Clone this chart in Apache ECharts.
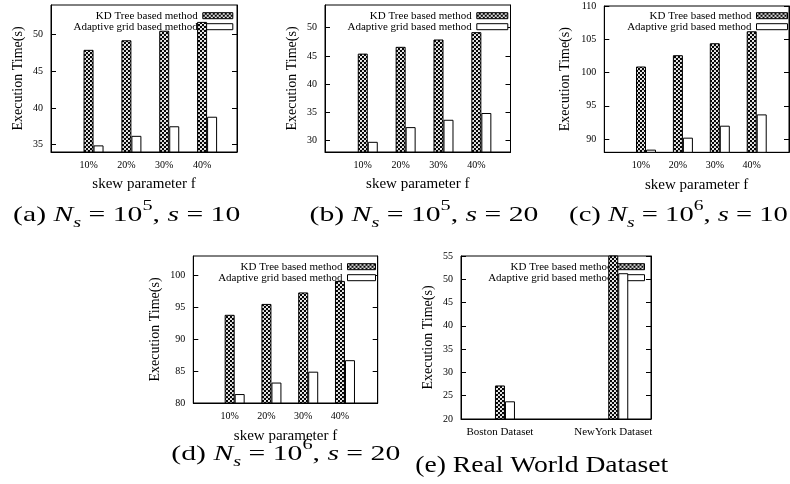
<!DOCTYPE html>
<html><head><meta charset="utf-8">
<script src="https://cdn.jsdelivr.net/npm/echarts@6/dist/echarts.min.js"></script>
<style>html,body{margin:0;padding:0;background:#fff}#c{width:790px;height:484px}</style>
</head><body><div id="c"></div>
<script>
// ---- data ----
const skewCats = ['10%', '20%', '30%', '40%'];
const realCats = ['Boston Dataset', 'NewYork Dataset'];
const seriesNames = ['KD Tree based method', 'Adaptive grid based method'];
const kdA = [47.9, 49.2, 50.5, 51.7];
const agA = [34.9, 36.2, 37.5, 38.8];
const kdB = [45.4, 46.6, 47.9, 49.2];
const agB = [29.8, 32.4, 33.7, 34.9];
const kdC = [100.9, 102.6, 104.4, 106.2];
const agC = [88.4, 90.2, 92.0, 93.7];
const kdD = [93.8, 95.5, 97.3, 99.1];
const agD = [81.4, 83.2, 84.9, 86.7];
const kdE = [27.2, 56];
const agE = [23.8, 51.3];
const ticksA = [35, 40, 45, 50];
const ticksB = [30, 35, 40, 45, 50];
const ticksC = [90, 95, 100, 105, 110];
const ticksD = [80, 85, 90, 95, 100];
const ticksE = [20, 25, 30, 35, 40, 45, 50, 55];
const yTitle = 'Execution Time(s)';
const xTitle = 'skew parameter f';
const captionA = '{t|(a) }{i|N}{sub|s}{t| = 10}{sup|5}{t|, }{i|s}{t| = 10}';
const captionB = '{t|(b) }{i|N}{sub|s}{t| = 10}{sup|5}{t|, }{i|s}{t| = 20}';
const captionC = '{t|(c) }{i|N}{sub|s}{t| = 10}{sup|6}{t|, }{i|s}{t| = 10}';
const captionD = '{t|(d) }{i|N}{sub|s}{t| = 10}{sup|6}{t|, }{i|s}{t| = 20}';
const captionE = '{e|(e) Real World Dataset}';

// ---- layout ----
const FONT = 'Liberation Serif';
const panels = [
  {cats: skewCats, kd: kdA, ag: agA, ticks: ticksA, ymin: 34, ymax: 54, box: [51, 5, 186, 147], xr: [-1.124, 3.79], xName: true, xGap: 25, yGap: 25.5, lab: 10, leg: [556.7, 10.2, 30], cap: captionA, capPos: [126.7, 215], capScale: 1.35},
  {cats: skewCats, kd: kdB, ag: agB, ticks: ticksB, ymin: 28, ymax: 54, box: [325, 5, 185.5, 147], xr: [-1.13, 3.77], xName: true, xGap: 24.5, yGap: 25.5, lab: 10, leg: [281.7, 10.2, 31], cap: captionB, capPos: [424, 215], capScale: 1.35},
  {cats: skewCats, kd: kdC, ag: agC, ticks: ticksC, ymin: 88, ymax: 110, box: [604.3, 6, 184.7, 146.3], xr: [-1.13, 3.875], xName: true, xGap: 25, yGap: 31.5, lab: 10, leg: [2, 10.2, 31], cap: captionC, capPos: [678.5, 215], capScale: 1.3},
  {cats: skewCats, kd: kdD, ag: agD, ticks: ticksD, ymin: 80, ymax: 103, box: [193.3, 256, 184.4, 147], xr: [-1.125, 3.89], xName: true, xGap: 26, yGap: 31, lab: 10, leg: [414, 261.2, 28], cap: captionD, capPos: [285.8, 454], capScale: 1.35},
  {cats: realCats, kd: kdE, ag: agE, ticks: ticksE, ymin: 20, ymax: 55, box: [461, 256, 190, 163], xr: [-0.388, 1.289], xName: false, xGap: 25, yGap: 25.5, lab: 11, leg: [145, 261.2, 27], cap: captionE, capPos: [541.7, 466], capScale: 1.2}
];

function makePattern() {
  const c = document.createElement('canvas');
  c.width = 4; c.height = 4;
  const g = c.getContext('2d');
  g.fillStyle = '#000'; g.fillRect(0, 0, 4, 4);
  g.fillStyle = '#fff';
  [[1, 1], [3, 3]].forEach(([cx, cy]) => {
    for (let dx = -4; dx <= 4; dx += 4) for (let dy = -4; dy <= 4; dy += 4) {
      g.beginPath(); g.arc(cx + dx, cy + dy, 1.1, 0, Math.PI * 2); g.fill();
    }
  });
  return {image: c, repeat: 'repeat'};
}
const pattern = makePattern();

const grids = [], xAxes = [], yAxes = [], series = [], legends = [], graphics = [];
const RICH = {
  t: {fontFamily: FONT, fontSize: 22, lineHeight: 32, fill: '#000'},
  e: {fontFamily: FONT, fontSize: 23, lineHeight: 32, fill: '#000'},
  i: {fontFamily: FONT, fontSize: 22, lineHeight: 32, fontStyle: 'italic', fill: '#000'},
  sub: {fontFamily: FONT, fontSize: 15, lineHeight: 20, fontStyle: 'italic', verticalAlign: 'bottom', fill: '#000'},
  sup: {fontFamily: FONT, fontSize: 15, lineHeight: 28, verticalAlign: 'top', fill: '#000'}
};

panels.forEach((p, k) => {
  grids.push({left: p.box[0], top: p.box[1], width: p.box[2], height: p.box[3], show: true,
    borderColor: '#000', borderWidth: 1, backgroundColor: 'transparent'});
  xAxes.push({
    type: 'value', gridIndex: k, min: p.xr[0], max: p.xr[1],
    splitLine: {show: false}, axisTick: {show: false},
    axisLine: {show: true, onZero: false, lineStyle: {color: '#000', width: 1}},
    axisLabel: {customValues: p.cats.map((c, i) => i), formatter: v => p.cats[Math.round(v)] || '',
      fontFamily: FONT, fontSize: p.lab, color: '#000', margin: 8, padding: [0, 10, 0, 0]},
    name: p.xName ? xTitle : '', nameLocation: 'middle', nameGap: p.xGap,
    nameTextStyle: {fontFamily: FONT, fontSize: 15, color: '#000'}
  });
  const yBase = {
    type: 'value', gridIndex: k, min: p.ymin, max: p.ymax, splitLine: {show: false},
    axisLine: {show: true, onZero: false, lineStyle: {color: '#000', width: 1}},
    axisTick: {show: true, inside: true, length: 5, customValues: p.ticks, lineStyle: {color: '#000'}}
  };
  yAxes.push(Object.assign({}, yBase, {
    position: 'left',
    axisLabel: {customValues: p.ticks, fontFamily: FONT, fontSize: 10, color: '#000', margin: 8},
    name: yTitle, nameLocation: 'middle', nameGap: p.yGap,
    nameTextStyle: {fontFamily: FONT, fontSize: 14, color: '#000'}
  }));
  yAxes.push(Object.assign({}, yBase, {position: 'right', axisLabel: {show: false}}));
  series.push({
    type: 'bar', name: seriesNames[0], xAxisIndex: k, yAxisIndex: 2 * k,
    data: p.kd.map((v, i) => [i, v]), barWidth: 10, barGap: '0%', clip: true,
    itemStyle: {color: pattern, borderColor: '#000', borderWidth: 1}
  });
  series.push({
    type: 'bar', name: seriesNames[1], xAxisIndex: k, yAxisIndex: 2 * k,
    data: p.ag.map((v, i) => [i, v]), barWidth: 10, barGap: '0%', clip: true,
    itemStyle: {color: '#fff', borderColor: '#000', borderWidth: 1}
  });
  legends.push({
    orient: 'vertical', align: 'right', right: p.leg[0], top: p.leg[1],
    itemWidth: p.leg[2], itemHeight: 6, itemGap: 0, padding: 0, z: 1, icon: 'rect',
    selectedMode: false, data: seriesNames,
    itemStyle: {borderColor: '#000', borderWidth: 1},
    textStyle: {fontFamily: FONT, fontSize: 11, color: '#000', lineHeight: 11}
  });
  graphics.push({
    type: 'text', x: p.capPos[0], y: p.capPos[1], scaleX: p.capScale,
    style: {text: p.cap, align: 'center', verticalAlign: 'middle', fill: '#000', rich: RICH}
  });
});

const chart = echarts.init(document.getElementById('c'), null, {renderer: 'canvas'});
chart.setOption({
  animation: false,
  backgroundColor: '#fff',
  grid: grids, xAxis: xAxes, yAxis: yAxes, series: series, legend: legends, graphic: graphics
});
</script>
</body></html>
